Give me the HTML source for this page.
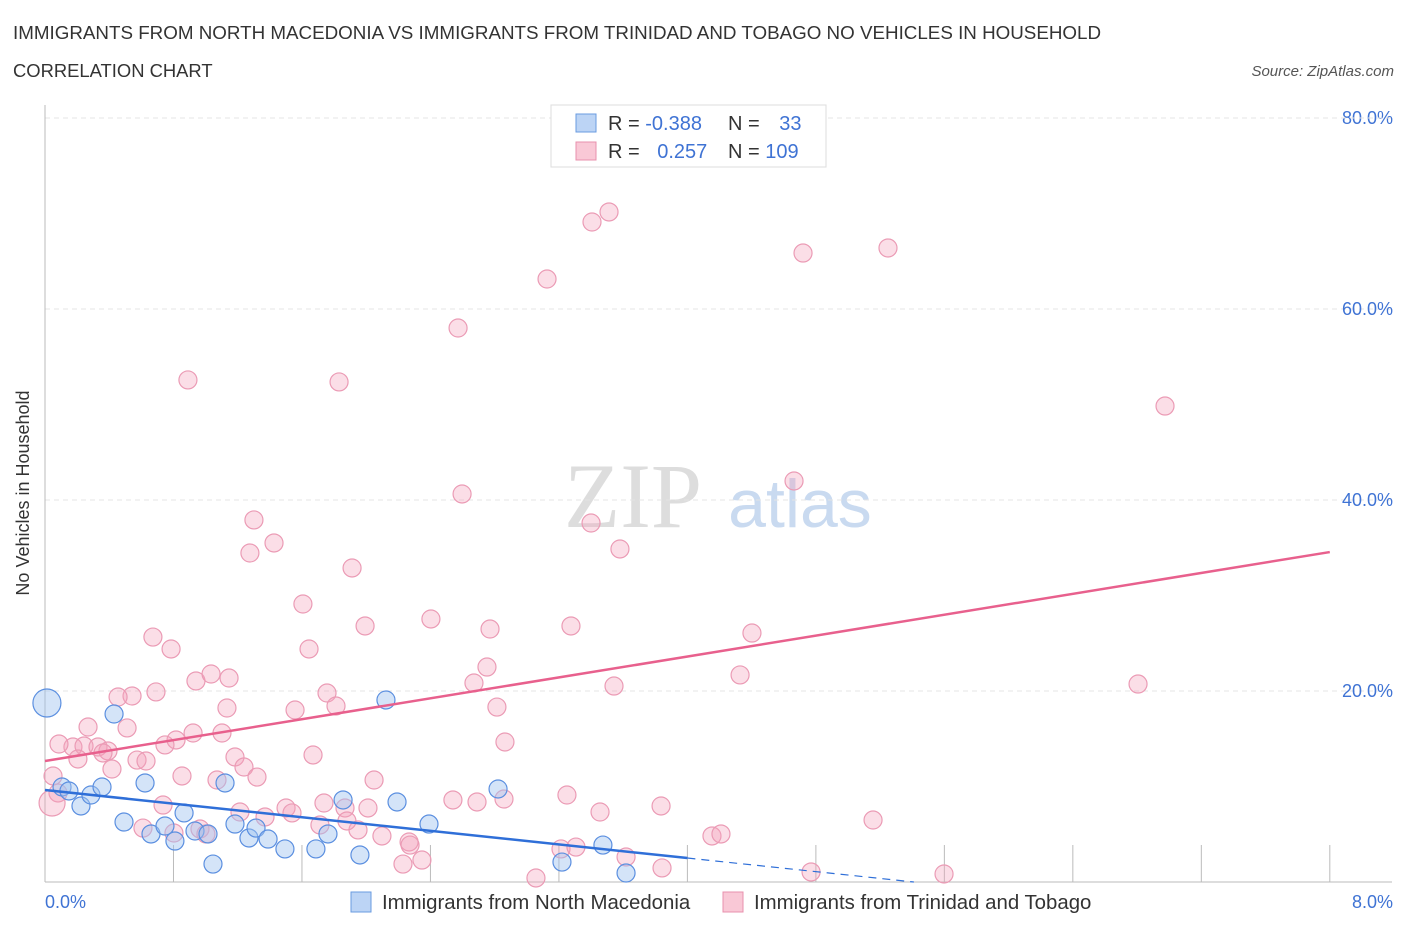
<!DOCTYPE html>
<html><head><meta charset="utf-8"><style>
body{margin:0;background:#fff;font-family:"Liberation Sans",sans-serif;}
svg text{font-family:"Liberation Sans",sans-serif;}
</style></head><body>
<svg id="chart" width="1406" height="930">
<text x="13" y="39" font-size="18.8" fill="#333">IMMIGRANTS FROM NORTH MACEDONIA VS IMMIGRANTS FROM TRINIDAD AND TOBAGO NO VEHICLES IN HOUSEHOLD</text>
<text x="13" y="77" font-size="18.4" fill="#333">CORRELATION CHART</text>
<text x="1394" y="76" font-size="15" fill="#555" font-style="italic" text-anchor="end">Source: ZipAtlas.com</text>
<text x="29" y="493" font-size="18" fill="#333" text-anchor="middle" transform="rotate(-90 29 493)">No Vehicles in Household</text>
<text x="633" y="527" font-size="92" fill="#ddd" text-anchor="middle" style="font-family:'Liberation Serif',serif">ZIP</text>
<text x="800" y="527" font-size="68" fill="#c9daf0" text-anchor="middle">atlas</text>
<g id="grid"></g><g id="pts"></g><g id="lines"></g>
<g>
<rect x="551" y="105" width="275" height="62" fill="#fff" stroke="#ddd"/>
<rect x="576" y="114" width="20" height="18" fill="#bcd4f5" stroke="#6a9be0"/>
<rect x="576" y="142" width="20" height="18" fill="#f9c8d6" stroke="#e890ad"/>
<text x="608" y="130" font-size="20" fill="#333">R = <tspan fill="#3f73d4">-0.388</tspan></text>
<text x="728" y="130" font-size="20" fill="#333">N = <tspan fill="#3f73d4" dx="14">33</tspan></text>
<text x="608" y="158" font-size="20" fill="#333">R = <tspan fill="#3f73d4" dx="12">0.257</tspan></text>
<text x="728" y="158" font-size="20" fill="#333">N = <tspan fill="#3f73d4">109</tspan></text>
</g>
<g>
<rect x="351" y="892" width="20" height="20" fill="#bcd4f5" stroke="#6a9be0"/>
<text x="382" y="909" font-size="20.4" fill="#333">Immigrants from North Macedonia</text>
<rect x="723" y="892" width="20" height="20" fill="#f9c8d6" stroke="#e890ad"/>
<text x="754" y="909" font-size="20.4" fill="#333">Immigrants from Trinidad and Tobago</text>
</g>
</svg>
<script>
const xTicks=[0,1,2,3,4,5,6,7,8];
const yTicks=[20,40,60,80];
const yTickLabels=["20.0%","40.0%","60.0%","80.0%"];
const xEndLabels=["0.0%","8.0%"];
const bluePx=[[47,703],[114,714],[81,806],[62,787],[69,791],[91,795],[102,787],[124,822],[145,783],[151,834],[165,826],[175,841],[184,813],[195,831],[208,834],[213,864],[225,783],[235,824],[249,838],[256,828],[268,839],[285,849],[316,849],[328,834],[343,800],[360,855],[386,700],[397,802],[429,824],[498,789],[562,862],[603,845],[626,873]];
const pinkPx=[[188,380],[339,382],[458,328],[547,279],[592,222],[609,212],[803,253],[888,248],[1165,406],[794,481],[462,494],[591,523],[620,549],[254,520],[250,553],[274,543],[303,604],[352,568],[365,626],[431,619],[490,629],[571,626],[752,633],[153,637],[171,649],[309,649],[487,667],[474,683],[614,686],[740,675],[1138,684],[196,681],[211,674],[229,678],[156,692],[132,696],[118,697],[327,693],[336,706],[227,708],[295,710],[497,707],[88,727],[127,728],[176,740],[193,733],[222,733],[165,745],[73,747],[84,746],[98,747],[108,751],[103,753],[59,744],[137,760],[146,761],[235,757],[313,755],[505,742],[244,767],[112,769],[78,759],[53,776],[58,793],[52,803],[182,776],[217,780],[257,777],[374,780],[163,805],[240,812],[265,817],[286,808],[292,813],[324,803],[345,808],[368,808],[320,825],[358,830],[347,821],[382,836],[409,842],[410,845],[403,864],[422,860],[453,800],[477,802],[504,799],[567,795],[600,812],[661,806],[873,820],[712,836],[721,834],[536,878],[561,849],[576,847],[626,857],[662,868],[811,872],[944,874],[143,828],[174,833],[200,829],[206,834]];
const blueX=bluePx.map(p=>+((p[0]-45)/160.6).toFixed(3)), blueY=bluePx.map(p=>+((882-p[1])/9.55).toFixed(2));
const pinkX=pinkPx.map(p=>+((p[0]-45)/160.6).toFixed(3)), pinkY=pinkPx.map(p=>+((882-p[1])/9.55).toFixed(2));
const pinkTrend=[12.67,34.55];
const blueTrend=[9.63,-1.78];
const X=v=>45+v*160.6, Y=v=>882-v*9.55;
const NS="http://www.w3.org/2000/svg";
function mk(t,a,p){const e=document.createElementNS(NS,t);for(const k in a)e.setAttribute(k,a[k]);p.appendChild(e);return e;}
const grid=document.getElementById('grid'),pts=document.getElementById('pts'),lines=document.getElementById('lines');
yTicks.forEach((t,i)=>{
 const l=mk('line',{x1:45,x2:1392,y1:Y(t),y2:Y(t),stroke:'#e4e4e4','stroke-dasharray':'5,4'},grid);
 
 
 const tx=mk('text',{x:1393,y:Y(t)+6,'font-size':18,fill:'#3f73d4','text-anchor':'end'},grid);tx.textContent=yTickLabels[i];
 
 
});
const topLine=mk('line',{x1:45,x2:1392,y1:118,y2:118,stroke:'#e4e4e4','stroke-dasharray':'5,4'},grid);


const ax=mk('line',{x1:45,x2:45,y1:105,y2:882,stroke:'#bbb'},grid);


const bx=mk('line',{x1:45,x2:1392,y1:882,y2:882,stroke:'#bbb'},grid);


for(let v=0;v<=8.01;v+=0.8){const t=mk('line',{x1:X(v),x2:X(v),y1:845,y2:882,stroke:'#bbb'},grid);
 
 }
[[0,xEndLabels[0],'start',45],[8,xEndLabels[1],'end',1393]].forEach(a=>{const t=mk('text',{x:a[3],y:908,'font-size':18,fill:'#3f73d4','text-anchor':a[2]},grid);t.textContent=a[1];
 
 });
pinkX.forEach((x,i)=>{const r=(i===64)?13:9;const c=mk('circle',{cx:X(x),cy:Y(pinkY[i]),r:r,fill:'rgba(244,160,186,0.35)',stroke:'#eb9bb5','stroke-width':1.2},pts);
 
 });
blueX.forEach((x,i)=>{const r=(i===0)?14:9;const c=mk('circle',{cx:X(x),cy:Y(blueY[i]),r:r,fill:'rgba(160,195,240,0.45)',stroke:'#5b8fe0','stroke-width':1.2},pts);
 
 });
const pl=mk('line',{x1:X(0),y1:Y(pinkTrend[0]),x2:X(8),y2:Y(pinkTrend[1]),stroke:'#e8608d','stroke-width':2.5},lines);


const bs=mk('line',{x1:X(0),y1:Y(blueTrend[0]),x2:X(4),y2:Y(blueTrend[0]+blueTrend[1]*4),stroke:'#2f6fd8','stroke-width':2.5},lines);


const xz=-blueTrend[0]/blueTrend[1];
const bd=mk('line',{x1:X(4),y1:Y(blueTrend[0]+blueTrend[1]*4),x2:X(xz),y2:Y(0),stroke:'#2f6fd8','stroke-width':1.2,'stroke-dasharray':'8,6'},lines);


</script>
</body></html>
